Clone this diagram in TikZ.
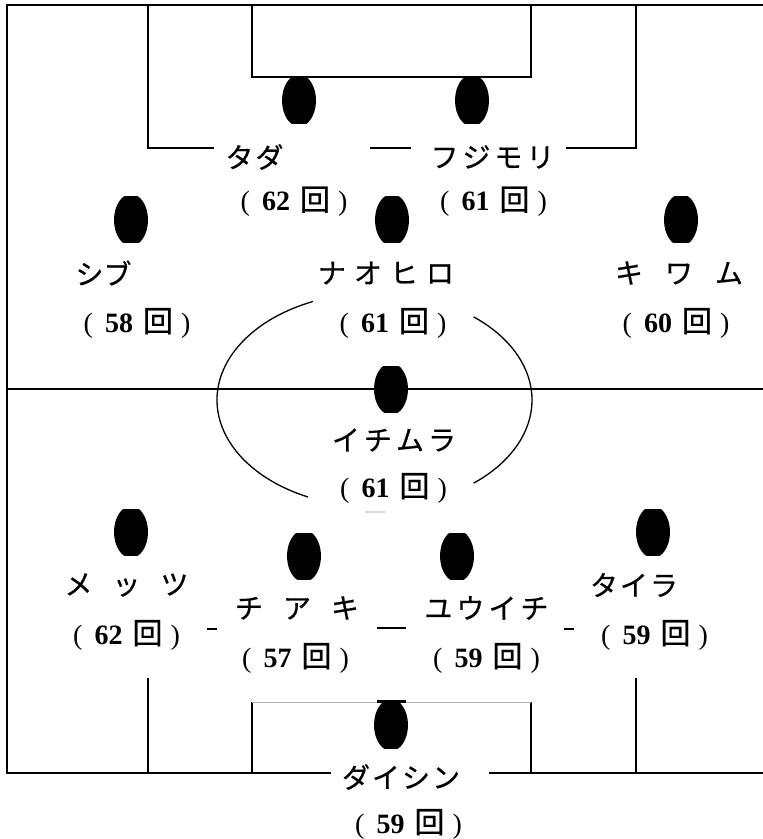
\documentclass[tikz,border=0pt]{standalone}
\usepackage{fontspec}
\setmainfont{Liberation Serif}
\newfontfamily\jp[FakeBold=0.5]{Noto Sans CJK JP}
% ( 62 回 )
\newcommand{\kai}[1]{{\fontsize{14}{14}\selectfont\kern1pt(\kern6pt{\bfseries#1}\kern5pt{\jp\fontsize{15}{15}\selectfont 回}\kern4pt)}}
% player: black ellipse, flat at top and bottom
\newcommand{\player}[2]{\begin{scope}\clip (#1-18,#2-23) rectangle (#1+18,#2+23); \fill (#1,#2) ellipse (17 and 26);\end{scope}}

\begin{document}
\begin{tikzpicture}[x=0.5pt,y=-0.5pt,
    nm/.style={font=\jp\fontsize{14}{14}\selectfont, inner sep=0pt},
    cnt/.style={inner sep=0pt}]
\useasboundingbox (0,0) rectangle (763,839);

% field
\draw[line width=1pt] (763,5) -- (7,5) -- (7,773) -- (331,773);
\draw[line width=1pt] (489,773) -- (763,773);
\draw[line width=0.85pt] (7,389) -- (763,389);

% upper penalty area and goal area
\draw[line width=0.65pt] (148,5) -- (148,148) -- (214,148);
\draw[line width=0.65pt] (370,148) -- (411,148);
\draw[line width=0.65pt] (566,148) -- (636,148) -- (636,5);
\draw[line width=0.65pt] (252,5) -- (252,77) -- (531,77) -- (531,5);

% lower penalty area and goal area
\draw[line width=0.65pt] (148,678) -- (148,773);
\draw[line width=0.65pt] (636,678) -- (636,773);
\draw[line width=0.65pt] (252,773) -- (252,702);
\draw[line width=0.65pt] (531,702) -- (531,773);
\draw[gray!60, line width=0.4pt] (252,702) -- (531,702);
\draw[line width=1.5pt] (377,701) -- (406,701);

% center circle
\draw[line width=0.65pt] (374.5,400) ++(115:157.5 and 107) arc[start angle=115, end angle=247, x radius=157.5, y radius=107];
\draw[line width=0.65pt] (374.5,400) ++(-51:157.5 and 107) arc[start angle=-51, end angle=51, x radius=157.5, y radius=107];
\draw[gray!30, line width=1pt] (365,512) -- (385,512);

% pieces of line between the defenders
\draw[line width=0.65pt] (207,629) -- (217,629);
\draw[line width=0.65pt] (377,628) -- (406,628);
\draw[line width=0.65pt] (564,629) -- (574,629);

% players
\player{299}{100.5}
\player{472}{100.5}
\player{131}{220}
\player{392}{220}
\player{681}{220}
\player{391}{389}
\player{131}{532}
\player{653}{532}
\player{304}{556}
\player{457}{556}
\player{391}{725}

% names and counts
\node[nm] (tada) at (254.5,157) {タ\kern1pt ダ};
\node[cnt] (tada-n) at (293,201.5) {\kai{62}};
\node[nm] (fujimori) at (492.5,157) {フ\kern2pt ジ\kern2pt モ\kern2pt リ};
\node[cnt] (fujimori-n) at (492.5,201.5) {\kai{61}};

\node[nm] (shibu) at (103.5,273) {シブ};
\node[cnt] (shibu-n) at (136,323) {\kai{58}};
\node[nm] (naohiro) at (386,273) {ナ\kern4pt オ\kern4pt ヒ\kern4pt ロ};
\node[cnt] (naohiro-n) at (392,323) {\kai{61}};
\node[nm] (kiwamu) at (679,273) {キ\kern11pt ワ\kern11pt ム};
\node[cnt] (kiwamu-n) at (675,323) {\kai{60}};

\node[nm] (ichimura) at (394,440) {イ\kern2pt チ\kern2pt ム\kern2pt ラ};
\node[cnt] (ichimura-n) at (392.5,488) {\kai{61}};

\node[nm] (mettsu) at (126.5,585) {メ\kern10pt ッ\kern10pt ツ};
\node[cnt] (mettsu-n) at (125.5,635) {\kai{62}};
\node[nm] (chiaki) at (297,608) {チ\kern10pt ア\kern10pt キ};
\node[cnt] (chiaki-n) at (294.5,658) {\kai{57}};
\node[nm] (yuichi) at (486.5,608) {ユ\kern2pt ウ\kern2pt イ\kern2pt チ};
\node[cnt] (yuichi-n) at (485.5,658) {\kai{59}};
\node[nm] (taira) at (634,585) {タ\kern1pt イ\kern1pt ラ};
\node[cnt] (taira-n) at (653.5,635) {\kai{59}};

\node[nm] (daishin) at (401,777) {ダ\kern1pt イ\kern1pt シ\kern1pt ン};
\node[cnt] (daishin-n) at (407.5,824) {\kai{59}};
\end{tikzpicture}
\end{document}
